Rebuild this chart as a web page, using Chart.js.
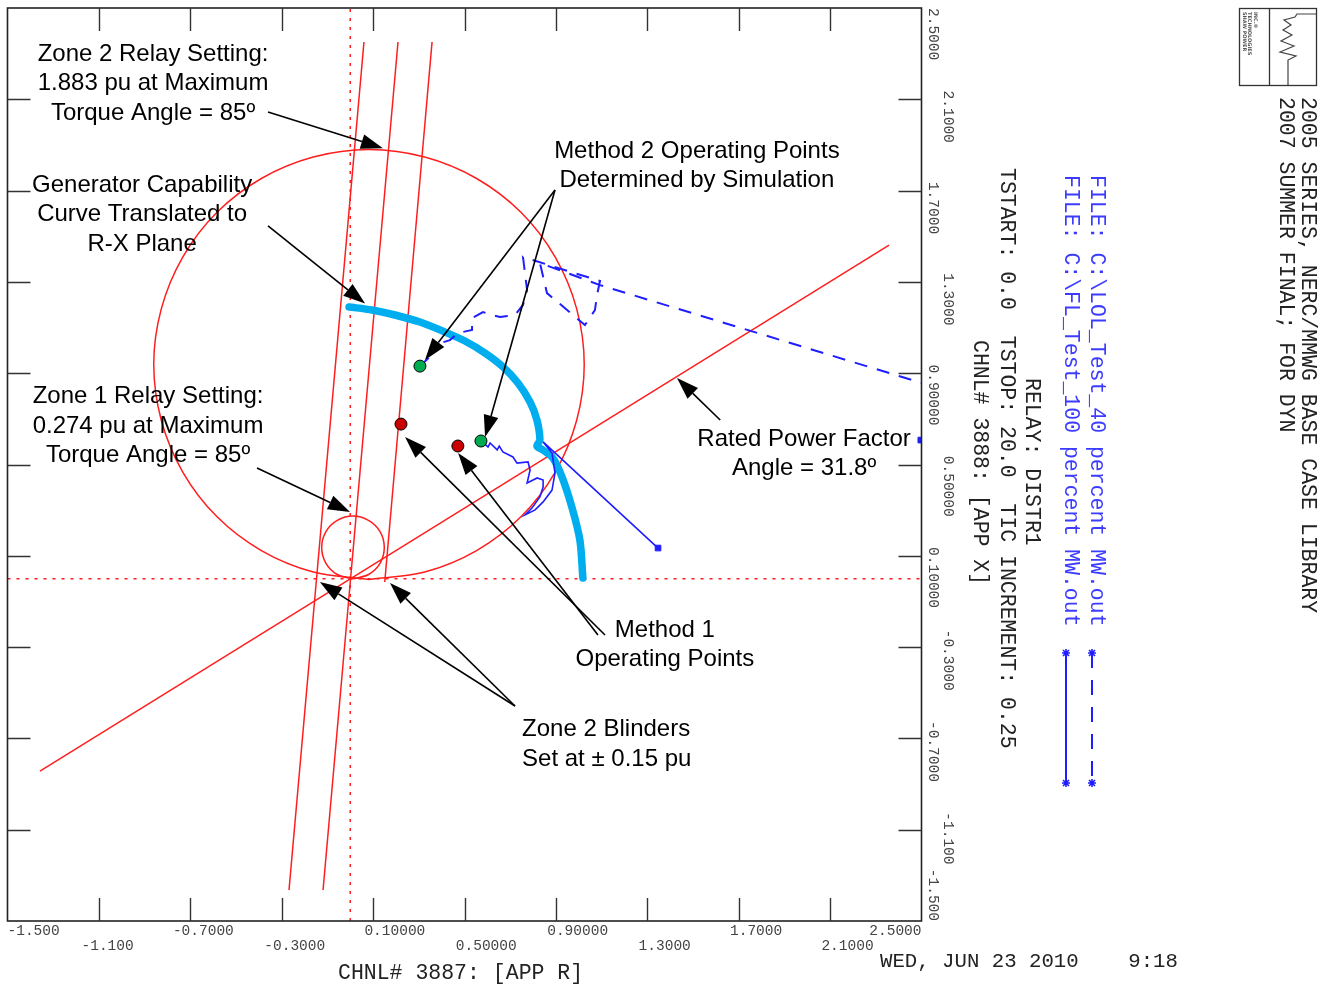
<!DOCTYPE html>
<html lang="en">
<head>
<meta charset="UTF-8">
<title>R-X plot - Zone 2 relay vs generator capability</title>
<style>
  html, body { margin: 0; padding: 0; background: #fff; }
  #wrap { width: 1325px; height: 987px; }
</style>
<script src="https://cdn.jsdelivr.net/npm/chart.js"></script>
</head>
<body>
<div id="wrap"><canvas id="rx" width="1325" height="987"></canvas></div>
<script>
// axis ticks (R and X in pu)
const xTicks = [-1.5, -1.1, -0.7, -0.3, 0.1, 0.5, 0.9, 1.3, 1.7, 2.1, 2.5];
const xTickLabels = ['-1.500', '-1.100', '-0.7000', '-0.3000', '0.10000', '0.50000', '0.90000', '1.3000', '1.7000', '2.1000', '2.5000'];
const yTicks = [2.5, 2.1, 1.7, 1.3, 0.9, 0.5, 0.1, -0.3, -0.7, -1.1, -1.5];
const yTickLabels = ['2.5000', '2.1000', '1.7000', '1.3000', '0.90000', '0.50000', '0.10000', '-0.3000', '-0.7000', '-1.100', '-1.500'];

// relay characteristics, [R, X]
const zone2Circle = [[0.082, -0.004], [0.326, 0.029], [0.553, 0.123], [0.748, 0.272], [0.897, 0.467], [0.991, 0.694],
  [1.024, 0.938], [0.991, 1.182], [0.897, 1.409], [0.748, 1.604], [0.553, 1.753], [0.326, 1.847], [0.082, 1.880],
  [-0.162, 1.847], [-0.389, 1.753], [-0.584, 1.604], [-0.733, 1.409], [-0.827, 1.182], [-0.860, 0.938],
  [-0.827, 0.694], [-0.733, 0.467], [-0.584, 0.272], [-0.389, 0.123], [-0.162, 0.029], [0.082, -0.004]];
const zone1Circle = [[0.012, -0.001], [0.080, 0.018], [0.131, 0.068], [0.149, 0.137], [0.131, 0.205], [0.080, 0.255],
  [0.012, 0.274], [-0.057, 0.255], [-0.107, 0.205], [-0.125, 0.137], [-0.107, 0.068], [-0.057, 0.018], [0.012, -0.001]];
const mtaLine = [[-0.119, -1.364], [0.209, 2.351]];
const blinderLeft = [[-0.268, -1.364], [0.060, 2.351]];
const blinderRight = [[0.151, -0.015], [0.358, 2.351]];
const pfLine = [[-1.358, -0.843], [2.358, 1.461]];
const rAxisLine = [[-1.5, 0], [2.5, 0]];
const xAxisLine = [[0, -1.5], [0, 2.5]];

// generator capability curve in the R-X plane
const genCapability = [[-0.005, 1.190], [0.095, 1.177], [0.196, 1.155], [0.305, 1.124], [0.406, 1.084], [0.502, 1.041],
  [0.590, 0.988], [0.669, 0.927], [0.734, 0.857], [0.787, 0.774], [0.817, 0.695], [0.830, 0.607], [0.817, 0.581],
  [0.844, 0.563], [0.887, 0.528], [0.927, 0.445], [0.970, 0.313], [1.005, 0.169], [1.018, 0.003]];

// simulated apparent impedance traces
const traceLOL40 = [[0.305, 0.931], [0.340, 0.964], [0.327, 0.973], [0.363, 0.990], [0.354, 1.003], [0.394, 1.016],
  [0.385, 1.029], [0.436, 1.045], [0.471, 1.076], [0.533, 1.089], [0.533, 1.142], [0.581, 1.168], [0.620, 1.155],
  [0.655, 1.146], [0.721, 1.155], [0.756, 1.199], [0.774, 1.264], [0.756, 1.409], [1.093, 1.304], [1.080, 1.243],
  [1.071, 1.177], [1.027, 1.111], [0.861, 1.251], [0.830, 1.383], [1.093, 1.286], [2.502, 0.857]];
const traceFL100 = [[0.572, 0.603], [0.603, 0.577], [0.612, 0.594], [0.643, 0.564], [0.652, 0.581], [0.668, 0.555],
  [0.712, 0.533], [0.730, 0.506], [0.778, 0.511], [0.787, 0.476], [0.774, 0.419], [0.818, 0.441], [0.844, 0.432],
  [0.844, 0.401], [0.830, 0.358], [0.795, 0.309], [0.765, 0.279], [0.809, 0.301], [0.844, 0.336], [0.883, 0.388],
  [0.896, 0.463], [0.883, 0.550], [0.844, 0.599], [1.347, 0.134]];
const traceEnds = [[1.347, 0.134], [2.497, 0.607]];

const method2Points = [[0.305, 0.931], [0.572, 0.603]];
const method1Points = [[0.222, 0.677], [0.471, 0.581]];

// callouts: text anchor and arrows [tailR, tailX, headR, headX]
const notes = [
  { at: [-0.863, 2.268], align: 'center', lines: ['Zone 2 Relay Setting:', '1.883 pu at Maximum', 'Torque Angle = 85º'] },
  { at: [-0.911, 1.694], align: 'center', lines: ['Generator Capability', 'Curve Translated to', 'R-X Plane'] },
  { at: [1.517, 1.843], align: 'center', lines: ['Method 2 Operating Points', 'Determined by Simulation'] },
  { at: [-0.885, 0.769], align: 'center', lines: ['Zone 1 Relay Setting:', '0.274 pu at Maximum', 'Torque Angle = 85º'] },
  { at: [1.986, 0.583], align: 'center', lines: ['Rated Power Factor', 'Angle = 31.8º'] },
  { at: [1.377, -0.255], align: 'center', lines: ['Method 1', 'Operating Points'] },
  { at: [0.752, -0.690], align: 'left', lines: ['Zone 2 Blinders', 'Set at ± 0.15 pu'] }
];
const arrows = [
  [-0.360, 2.044, 0.143, 1.886],
  [-0.360, 1.545, 0.065, 1.205],
  [0.896, 1.703, 0.327, 0.958],
  [0.896, 1.703, 0.590, 0.620],
  [-0.408, 0.485, -0.001, 0.292],
  [1.619, 0.695, 1.430, 0.879],
  [1.115, -0.247, 0.240, 0.621],
  [1.084, -0.247, 0.472, 0.550],
  [0.721, -0.558, -0.133, -0.015],
  [0.721, -0.558, 0.174, -0.019]
];

const pts = arr => arr.map(([r, x]) => ({ x: r, y: x }));
const RED = 'rgb(255,30,30)';
const BLUE = 'rgb(30,30,255)';
const MONO = '"Liberation Mono", "DejaVu Sans Mono", monospace';

function redLine(data, extra) {
  return Object.assign({ data: pts(data), showLine: true, borderColor: RED, borderWidth: 1.5, pointRadius: 0, order: 6 }, extra || {});
}

// frame, inward tics, tick labels, header text
const frame = {
  id: 'frame',
  afterDatasetsDraw(chart) {
    const { ctx, chartArea: a, scales: { x, y } } = chart;
    const TIC = 23;
    ctx.save();

    // callout arrows and text
    ctx.strokeStyle = '#000';
    ctx.fillStyle = '#000';
    ctx.lineWidth = 1.6;
    arrows.forEach(([r1, x1, r2, x2]) => {
      const px1 = x.getPixelForValue(r1), py1 = y.getPixelForValue(x1);
      const px2 = x.getPixelForValue(r2), py2 = y.getPixelForValue(x2);
      const ang = Math.atan2(py2 - py1, px2 - px1);
      const L = 22, W = 7.5;
      const bx = px2 - L * Math.cos(ang), by = py2 - L * Math.sin(ang);
      ctx.beginPath();
      ctx.moveTo(px1, py1);
      ctx.lineTo(bx, by);
      ctx.stroke();
      ctx.beginPath();
      ctx.moveTo(px2, py2);
      ctx.lineTo(bx + W * Math.sin(ang), by - W * Math.cos(ang));
      ctx.lineTo(bx - W * Math.sin(ang), by + W * Math.cos(ang));
      ctx.closePath();
      ctx.fill();
    });
    ctx.font = '24px "Liberation Sans", Arial, sans-serif';
    ctx.textBaseline = 'alphabetic';
    notes.forEach(n => {
      const px = x.getPixelForValue(n.at[0]), py = y.getPixelForValue(n.at[1]);
      ctx.textAlign = n.align;
      n.lines.forEach((t, i) => ctx.fillText(t, px, py + i * 29.5));
    });

    // plot frame
    ctx.strokeStyle = '#222';
    ctx.lineWidth = 1.6;
    ctx.strokeRect(a.left, a.top, a.right - a.left, a.bottom - a.top);
    ctx.strokeStyle = '#333';
    ctx.lineWidth = 1.4;
    ctx.beginPath();
    xTicks.slice(1, -1).forEach(v => {
      const px = Math.round(x.getPixelForValue(v)) + 0.5;
      ctx.moveTo(px, a.top); ctx.lineTo(px, a.top + TIC);
      ctx.moveTo(px, a.bottom); ctx.lineTo(px, a.bottom - TIC);
    });
    yTicks.slice(1, -1).forEach(v => {
      const py = Math.round(y.getPixelForValue(v)) + 0.5;
      ctx.moveTo(a.left, py); ctx.lineTo(a.left + TIC, py);
      ctx.moveTo(a.right, py); ctx.lineTo(a.right - TIC, py);
    });
    ctx.stroke();

    // tick labels, staggered in two rows / columns
    ctx.font = '14.5px ' + MONO;
    ctx.fillStyle = '#444';
    ctx.textAlign = 'left';
    ctx.textBaseline = 'middle';
    const ch = ctx.measureText('0').width;
    xTickLabels.forEach((t, i) => {
      const px = x.getPixelForValue(xTicks[i]);
      const w = ctx.measureText(t).width;
      let s = px - ch - (t[0] === '-' ? ch : 0);
      s = Math.max(a.left, Math.min(s, a.right - w));
      ctx.fillText(t, s, a.bottom + (i % 2 ? 25 : 10));
    });
    yTickLabels.forEach((t, i) => {
      const py = y.getPixelForValue(yTicks[i]);
      const w = ctx.measureText(t).width;
      let s = py - ch - (t[0] === '-' ? ch : 0);
      s = Math.max(a.top, Math.min(s, a.bottom - w));
      ctx.save();
      ctx.translate(a.right + (i % 2 ? 26.5 : 11.5), s);
      ctx.rotate(Math.PI / 2);
      ctx.fillText(t, 0, 0);
      ctx.restore();
    });

    // axis titles and run info
    ctx.font = '21.5px ' + MONO;
    ctx.fillStyle = '#222';
    ctx.fillText('CHNL# 3887: [APP R]', 338, 973);
    ctx.font = '20.7px ' + MONO;
    ctx.fillText('WED, JUN 23 2010    9:18', 880, 962);
    const vtext = (t, cx, top, color) => {
      ctx.save();
      ctx.fillStyle = color;
      ctx.translate(cx, top);
      ctx.rotate(Math.PI / 2);
      ctx.fillText(t, 0, 0);
      ctx.restore();
    };
    ctx.font = '21.5px ' + MONO;
    vtext('CHNL# 3888: [APP X]', 980, 340, '#222');
    vtext('TSTART: 0.0  TSTOP: 20.0  TIC INCREMENT: 0.25', 1007, 168, '#222');
    vtext('RELAY: DISTR1', 1032, 378, '#222');
    vtext('FILE: C:\\FL_Test_100 percent MW.out', 1071, 175, 'rgb(60,60,255)');
    vtext('FILE: C:\\LOL_Test_40 percent MW.out', 1097, 175, 'rgb(60,60,255)');
    vtext('2007 SUMMER FINAL; FOR DYN', 1286, 97, '#222');
    vtext('2005 SERIES, NERC/MMWG BASE CASE LIBRARY', 1308, 97, '#222');

    // legend samples
    const star = (cx, cy, r) => {
      const d = r * 0.75;
      ctx.moveTo(cx - r, cy); ctx.lineTo(cx + r, cy);
      ctx.moveTo(cx, cy - r); ctx.lineTo(cx, cy + r);
      ctx.moveTo(cx - d, cy - d); ctx.lineTo(cx + d, cy + d);
      ctx.moveTo(cx - d, cy + d); ctx.lineTo(cx + d, cy - d);
    };
    ctx.strokeStyle = BLUE;
    ctx.lineWidth = 2;
    ctx.beginPath(); ctx.moveTo(1066, 653); ctx.lineTo(1066, 783); ctx.stroke();
    ctx.setLineDash([15, 12]);
    ctx.beginPath(); ctx.moveTo(1092, 653); ctx.lineTo(1092, 783); ctx.stroke();
    ctx.setLineDash([]);
    ctx.lineWidth = 1.6;
    ctx.beginPath();
    star(1066, 653, 4); star(1066, 783, 4); star(1092, 653, 4); star(1092, 783, 4);
    ctx.stroke();

    // company logo box
    ctx.strokeStyle = '#333';
    ctx.lineWidth = 1.3;
    ctx.strokeRect(1239.5, 8.5, 77, 77);
    ctx.beginPath(); ctx.moveTo(1269.5, 8.5); ctx.lineTo(1269.5, 85.5); ctx.stroke();
    ctx.strokeStyle = '#444';
    ctx.lineWidth = 1.2;
    ctx.beginPath();
    ctx.moveTo(1288, 85); ctx.lineTo(1288, 60);
    [[1296, 56], [1280, 52], [1294, 46], [1281, 41], [1292, 35], [1283, 30], [1291, 25], [1284, 20], [1295, 17], [1297, 14], [1316, 14]]
      .forEach(([px, py]) => ctx.lineTo(px, py));
    ctx.stroke();
    ctx.font = 'bold 5px "DejaVu Sans", sans-serif';
    ['SHAW POWER', 'TECHNOLOGIES', 'INC.®'].forEach((t, i) => vtext(t, 1244 + i * 5.5, 12, '#555'));

    ctx.restore();
  }
};

new Chart(document.getElementById('rx'), {
  type: 'scatter',
  data: {
    datasets: [
      { data: pts(method2Points), pointRadius: 6, pointBackgroundColor: 'rgb(0,170,80)', pointBorderColor: '#000', pointBorderWidth: 1, order: 0 },
      { data: pts(method1Points), pointRadius: 6, pointBackgroundColor: 'rgb(200,0,0)', pointBorderColor: '#000', pointBorderWidth: 1, order: 0 },
      { data: pts(traceEnds), pointStyle: 'rect', pointRadius: 4, pointBackgroundColor: BLUE, pointBorderColor: BLUE, order: 1 },
      { data: pts(traceFL100), showLine: true, borderColor: BLUE, borderWidth: 1.6, pointRadius: 0, order: 2 },
      { data: pts(traceLOL40), showLine: true, borderColor: BLUE, borderWidth: 2, borderDash: [13, 10], pointRadius: 0, order: 3 },
      { data: pts(genCapability), showLine: true, borderColor: 'rgb(0,174,239)', borderWidth: 7.5, borderCapStyle: 'round', borderJoinStyle: 'round', tension: 0.3, pointRadius: 0, order: 4 },
      redLine(zone2Circle, { tension: 0.34 }),
      redLine(zone1Circle, { tension: 0.34 }),
      redLine(mtaLine),
      redLine(blinderLeft),
      redLine(blinderRight),
      redLine(pfLine),
      redLine(rAxisLine, { borderDash: [3, 6], order: 9 }),
      redLine(xAxisLine, { borderDash: [3, 6], order: 9 })
    ]
  },
  options: {
    responsive: false,
    animation: false,
    layout: { padding: { left: 7.5, top: 8, right: 403.5, bottom: 66 } },
    plugins: { legend: { display: false }, tooltip: { enabled: false } },
    scales: {
      x: { type: 'linear', min: -1.5, max: 2.5, display: false },
      y: { type: 'linear', min: -1.5, max: 2.5, display: false }
    }
  },
  plugins: [frame]
});
</script>
</body>
</html>
